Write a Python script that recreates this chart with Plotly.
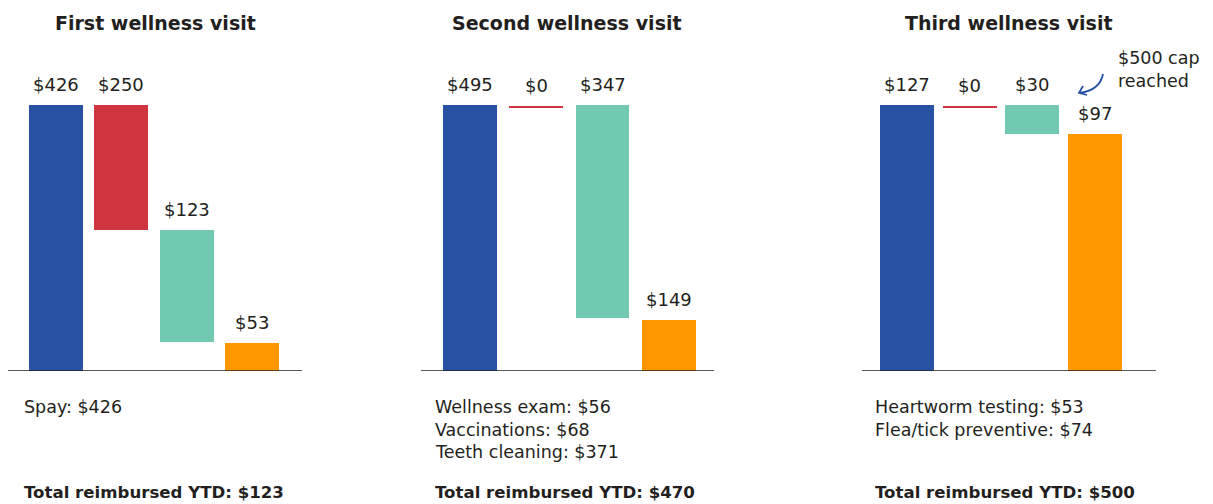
import plotly.graph_objects as go

W, H = 1213, 504

# ---- data ----
titles = ["First wellness visit", "Second wellness visit", "Third wellness visit"]
steps = ["Vet bill", "Deductible", "Coinsurance", "Reimbursed"]
colors = ["#2752A4", "#D0343E", "#72C9B1", "#FF9700"]

# bar extents as drawn (in each panel's own visual scale)
p1_base = [0, 226, 46, 0]
p1_top = [426, 426, 226, 45]
p2_base = [0, 489, 99, 0]
p2_top = [495, 493, 495, 95]
p3_base = [0, 125.5, 113, 0]
p3_top = [127, 126.5, 127, 113]

p1_labels = ["$426", "$250", "$123", "$53"]
p2_labels = ["$495", "$0", "$347", "$149"]
p3_labels = ["$127", "$0", "$30", "$97"]

p1_items = ["Spay: $426"]
p2_items = ["Wellness exam: $56", "Vaccinations: $68", "Teeth cleaning: $371"]
p3_items = ["Heartworm testing: $53", "Flea/tick preventive: $74"]

totals = ["Total reimbursed YTD: $123", "Total reimbursed YTD: $470", "Total reimbursed YTD: $500"]
cap_note = ["$500 cap", "reached"]

panel_max = [426, 495, 127]

# ---- layout helpers ----
def px2x(p):
    return p / W

def px2y(p):
    return 1 - p / H

FONT = "DejaVu Sans"
TXT = "#231F20"

panels = [
    dict(base=p1_base, top=p1_top, labels=p1_labels, items=p1_items,
         dom=(8, 302), rng=(-0.73, 3.76), width=0.82, left=24, tcx=155),
    dict(base=p2_base, top=p2_top, labels=p2_labels, items=p2_items,
         dom=(421, 714), rng=(-0.739, 3.68), width=0.81, left=435, tcx=567),
    dict(base=p3_base, top=p3_top, labels=p3_labels, items=p3_items,
         dom=(862, 1156), rng=(-0.713, 3.97), width=0.86, left=875, tcx=1009),
]

fig = go.Figure()
annotations = []
ydom = [px2y(371), px2y(105)]

for i, p in enumerate(panels):
    xa = "x" if i == 0 else f"x{i+1}"
    ya = "y" if i == 0 else f"y{i+1}"
    heights = [t - b for t, b in zip(p["top"], p["base"])]
    fig.add_trace(go.Bar(
        x=list(range(len(steps))), y=heights, base=p["base"],
        marker=dict(color=colors, line=dict(width=0)),
        width=p["width"], xaxis=xa, yaxis=ya, showlegend=False,
        hoverinfo="skip",
    ))
    suffix = "" if i == 0 else str(i + 1)
    fig.update_layout(**{
        f"xaxis{suffix}": dict(domain=[px2x(p["dom"][0]), px2x(p["dom"][1])],
                               range=list(p["rng"]), showgrid=False, zeroline=False,
                               showticklabels=False, ticks="", showline=False, fixedrange=True),
        f"yaxis{suffix}": dict(domain=ydom, range=[0, panel_max[i]], showgrid=False,
                               zeroline=False, showticklabels=False, ticks="",
                               showline=False, fixedrange=True, anchor=xa),
    })
    fig.layout[f"xaxis{suffix}"].anchor = ya
    # baseline
    fig.add_shape(type="line", xref=f"{xa} domain", yref=ya, x0=0, x1=1, y0=0, y1=0,
                  line=dict(color="#231F20", width=1.5))
    # value labels
    for j, lab in enumerate(p["labels"]):
        annotations.append(dict(x=j, y=p["top"][j], xref=xa, yref=ya, text=lab,
                                showarrow=False, yanchor="bottom", yshift=8,
                                font=dict(family=FONT, size=18, color=TXT)))
    # title
    annotations.append(dict(x=px2x(p["tcx"]), y=px2y(23), xref="paper", yref="paper",
                            text=f"<b>{titles[i]}</b>", showarrow=False,
                            xanchor="center", yanchor="middle",
                            font=dict(family=FONT, size=19, color=TXT)))
    # items
    for k, it in enumerate(p["items"]):
        annotations.append(dict(x=px2x(p["left"] - 2), y=px2y(407 + 22.5 * k), xref="paper",
                                yref="paper", text=it, showarrow=False,
                                xanchor="left", yanchor="middle",
                                font=dict(family=FONT, size=17.5, color=TXT)))
    # total
    annotations.append(dict(x=px2x(p["left"] - 2), y=px2y(492), xref="paper", yref="paper",
                            text=f"<b>{totals[i]}</b>", showarrow=False,
                            xanchor="left", yanchor="middle",
                            font=dict(family=FONT, size=16.6, color=TXT)))

# cap note
for k, line in enumerate(cap_note):
    annotations.append(dict(x=px2x(1116), y=px2y(58 + 23 * k), xref="paper", yref="paper",
                            text=line, showarrow=False, xanchor="left", yanchor="middle",
                            font=dict(family=FONT, size=17.5, color=TXT)))

def P(x, y):
    return f"{px2x(x):.5f},{px2y(y):.5f}"

fig.add_shape(type="path", xref="paper", yref="paper",
              path=f"M {P(1103, 74)} Q {P(1100, 90)} {P(1080, 93)}",
              line=dict(color="#2752A4", width=1.8))
fig.add_shape(type="path", xref="paper", yref="paper",
              path=f"M {P(1083, 86)} L {P(1079, 93)} L {P(1087, 95)}",
              line=dict(color="#2752A4", width=1.8))

fig.update_layout(width=W, height=H, margin=dict(l=0, r=0, t=0, b=0),
                  paper_bgcolor="white", plot_bgcolor="white",
                  annotations=annotations, bargap=0)

fig.write_html("out.html")
